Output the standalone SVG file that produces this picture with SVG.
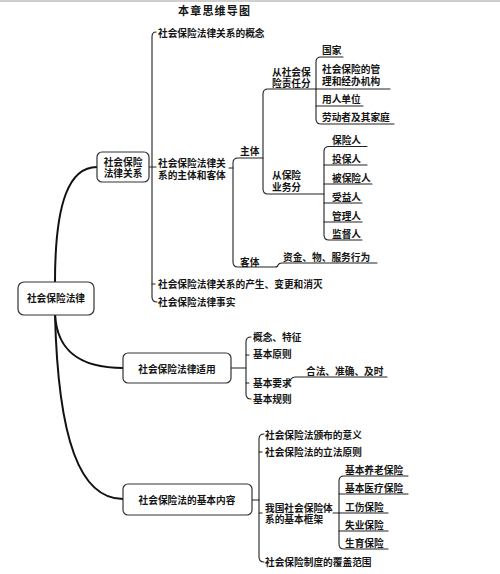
<svg xmlns="http://www.w3.org/2000/svg" width="500" height="574" viewBox="0 0 500 574">
<style>
text{font-family:"Noto Sans CJK SC","Noto Sans",sans-serif;font-size:9.7px;font-weight:700;fill:#151515}
.t{font-size:11px;letter-spacing:1.2px}
.c{text-anchor:middle}
.box{fill:#fff;stroke:#333;stroke-width:1.2}
.ln{fill:none;stroke:#222;stroke-width:1.1;stroke-linecap:round}
.main{fill:none;stroke:#111;stroke-width:2}
</style>
<rect x="0" y="0" width="500" height="2" fill="#cfcfcf"/>
<text class="t" x="178" y="14.5">本章思维导图</text>

<g id="connectors">
  <path class="main" d="M55,282 C55,200 70,167 97,167"/>
  <path class="main" d="M55,314 C57,355 85,368 123,368"/>
  <path class="main" d="M55,314 C58,440 80,499 123,499"/>
  <path class="ln" d="M156,32 Q152,32 152,37 V297 Q152,302 157,302"/>
  <path class="ln" d="M149,167 H156"/>
  <path class="ln" d="M152,284 H155"/>
  <path class="ln" d="M229,168 H233"/>
  <path class="ln" d="M263,158 H238 Q233,158 233,163 V262 Q233,267 238,267 H275 Q278,267 278,265 Q279,263 282,263 H377"/>
  <path class="ln" d="M316,89 H268 Q263,89 263,94 V189 Q263,194 268,194 H324"/>
  <path class="ln" d="M343,57 H321 Q316,57 316,62 V119 Q316,124 321,124 H394"/>
  <path class="ln" d="M316,89 H390"/>
  <path class="ln" d="M316,106 H363"/>
  <path class="ln" d="M367,146.5 H329 Q324,146.5 324,151.5 V235 Q324,240 329,240 H362"/>
  <path class="ln" d="M324,165 H367"/>
  <path class="ln" d="M324,184 H372"/>
  <path class="ln" d="M324,203 H362"/>
  <path class="ln" d="M324,222 H362"/>
  <path class="ln" d="M231,368 H246"/>
  <path class="ln" d="M251,337 Q246,337 246,342 V394 Q246,399 251,399"/>
  <path class="ln" d="M246,355 H249"/>
  <path class="ln" d="M246,383 H249"/>
  <path class="ln" d="M286,383 C290,383 290,377 295,377 H387"/>
  <path class="ln" d="M252,500 H259"/>
  <path class="ln" d="M264,434 Q259,434 259,439 V557 Q259,562 264,562"/>
  <path class="ln" d="M259,452 H262"/>
  <path class="ln" d="M259,513 H262"/>
  <path class="ln" d="M333,513 H339"/>
  <path class="ln" d="M408,476 H344 Q339,476 339,481 V544 Q339,549 344,549 H388"/>
  <path class="ln" d="M339,494 H408"/>
  <path class="ln" d="M339,513 H388"/>
  <path class="ln" d="M339,531 H388"/>
</g>

<g id="root">
  <rect class="box" x="18" y="282" width="76" height="33" rx="6"/>
  <text class="c" x="56" y="302">社会保险法律</text>
</g>
<g id="n-relation">
  <rect class="box" x="97" y="152" width="52" height="30" rx="5"/>
  <text class="c" x="123" y="166">社会保险<tspan x="123" dy="11">法律关系</tspan></text>
</g>
<g id="n-concept"><text x="158" y="37">社会保险法律关系的概念</text></g>
<g id="n-subject-object">
  <text x="158" y="167">社会保险法律关<tspan x="158" dy="12">系的主体和客体</tspan></text>
</g>
<g id="n-subject"><text x="240" y="155">主体</text></g>
<g id="n-by-duty">
  <text x="272" y="76">从社会保<tspan x="272" dy="11">险责任分</tspan></text>
</g>
<g id="n-state"><text x="322" y="54">国家</text></g>
<g id="n-agency">
  <text x="322" y="73">社会保险的管<tspan x="322" dy="12">理和经办机构</tspan></text>
</g>
<g id="n-employer"><text x="322" y="103">用人单位</text></g>
<g id="n-worker"><text x="322" y="121">劳动者及其家庭</text></g>
<g id="n-by-business">
  <text x="272" y="179">从保险<tspan x="272" dy="12">业务分</tspan></text>
</g>
<g id="n-insurer"><text x="332" y="144">保险人</text></g>
<g id="n-policyholder"><text x="332" y="163">投保人</text></g>
<g id="n-insured"><text x="332" y="182">被保险人</text></g>
<g id="n-beneficiary"><text x="332" y="201">受益人</text></g>
<g id="n-manager"><text x="332" y="220">管理人</text></g>
<g id="n-supervisor"><text x="332" y="238">监督人</text></g>
<g id="n-object"><text x="240" y="266">客体</text></g>
<g id="n-object-items"><text x="283" y="261">资金、物、服务行为</text></g>
<g id="n-change"><text x="158" y="288">社会保险法律关系的产生、变更和消灭</text></g>
<g id="n-fact"><text x="158" y="306">社会保险法律事实</text></g>

<g id="n-application">
  <rect class="box" x="123" y="353" width="108" height="30" rx="5"/>
  <text class="c" x="177" y="372.5">社会保险法律适用</text>
</g>
<g id="n-feature"><text x="253" y="341">概念、特征</text></g>
<g id="n-principle"><text x="253" y="358">基本原则</text></g>
<g id="n-requirement"><text x="253" y="387">基本要求</text></g>
<g id="n-requirement-items"><text x="306" y="375">合法、准确、及时</text></g>
<g id="n-rules"><text x="253" y="403">基本规则</text></g>

<g id="n-content">
  <rect class="box" x="123" y="484" width="129" height="31" rx="5"/>
  <text class="c" x="187" y="504">社会保险法的基本内容</text>
</g>
<g id="n-meaning"><text x="265" y="439">社会保险法颁布的意义</text></g>
<g id="n-legislation"><text x="265" y="456">社会保险法的立法原则</text></g>
<g id="n-framework">
  <text x="265" y="512">我国社会保险体<tspan x="265" dy="11">系的基本框架</tspan></text>
</g>
<g id="n-pension"><text x="345" y="474">基本养老保险</text></g>
<g id="n-medical"><text x="345" y="492">基本医疗保险</text></g>
<g id="n-injury"><text x="345" y="511">工伤保险</text></g>
<g id="n-unemployment"><text x="345" y="529">失业保险</text></g>
<g id="n-maternity"><text x="345" y="547">生育保险</text></g>
<g id="n-coverage"><text x="265" y="566">社会保险制度的覆盖范围</text></g>
</svg>
